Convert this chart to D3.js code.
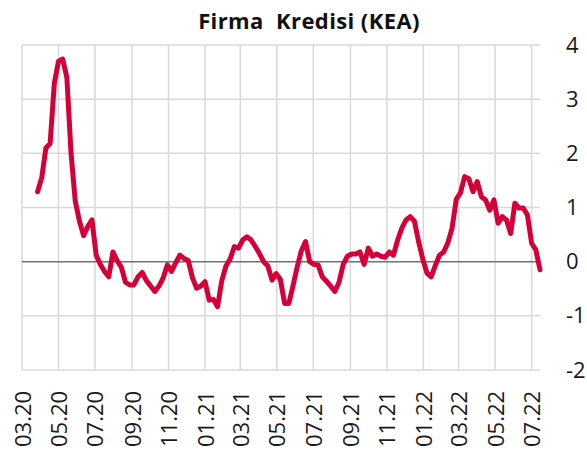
<!DOCTYPE html>
<html>
<head>
<meta charset="utf-8">
<script src="https://cdn.jsdelivr.net/npm/d3@7"></script>
<style>
  html, body { margin: 0; padding: 0; background: #fff; }
  svg { display: block; font-family: "Open Sans", "Noto Sans", sans-serif; }
</style>
</head>
<body>
<svg id="chart" width="587" height="451"></svg>
<script>
const title = "Firma  Kredisi (KEA)";
const startDate = "2020-03-27"; // first weekly observation
const values = [
  1.29, 1.55, 2.10, 2.18, 3.29, 3.70, 3.74, 3.40, 2.00, 1.12,
  0.75, 0.48, 0.65, 0.77, 0.12, -0.05, -0.18, -0.28, 0.18, 0.02,
  -0.10, -0.38, -0.43, -0.43, -0.28, -0.20, -0.35, -0.45, -0.55, -0.45,
  -0.30, -0.06, -0.18, -0.02, 0.12, 0.06, 0.02, -0.30, -0.49, -0.45,
  -0.37, -0.71, -0.70, -0.83, -0.35, -0.08, 0.05, 0.28, 0.25, 0.40,
  0.46, 0.40, 0.28, 0.15, 0.00, -0.08, -0.34, -0.22, -0.33, -0.77,
  -0.77, -0.45, -0.10, 0.20, 0.37, 0.00, -0.05, -0.06, -0.28, -0.36,
  -0.45, -0.55, -0.38, -0.05, 0.10, 0.14, 0.14, 0.18, -0.05, 0.25,
  0.10, 0.14, 0.10, 0.08, 0.18, 0.12, 0.40, 0.62, 0.77, 0.83,
  0.75, 0.37, 0.05, -0.21, -0.28, -0.07, 0.12, 0.18, 0.35, 0.62,
  1.15, 1.27, 1.57, 1.53, 1.29, 1.48, 1.20, 1.14, 0.95, 1.14,
  0.71, 0.83, 0.77, 0.52, 1.08, 0.99, 0.99, 0.86, 0.34, 0.22,
  -0.15
];
const xTickLabels = ["03.20","05.20","07.20","09.20","11.20","01.21","03.21","05.21","07.21","09.21","11.21","01.22","03.22","05.22","07.22"];
const yTicks = [-2, -1, 0, 1, 2, 3, 4];

const parse = d3.timeParse("%Y-%m-%d");
const parseTick = d3.timeParse("%m.%y");
const t0 = parse(startDate);
const data = values.map((v, i) => ({ date: d3.timeDay.offset(t0, 7 * i), value: v }));
const tickDates = xTickLabels.map(s => parseTick(s));

const svg = d3.select("#chart");
const margin = { left: 22, right: 47, top: 45, bottom: 81 };
const W = 587, H = 451;

const x = d3.scaleTime()
  .domain([tickDates[0], data[data.length - 1].date])
  .range([margin.left, W - margin.right]);
const y = d3.scaleLinear()
  .domain([-2, 4])
  .range([H - margin.bottom, margin.top]);

// horizontal grid
svg.append("g")
  .selectAll("line")
  .data(yTicks.filter(d => d !== 0))
  .join("line")
  .attr("x1", x.range()[0]).attr("x2", x.range()[1])
  .attr("y1", d => y(d)).attr("y2", d => y(d))
  .attr("stroke", "#d9d9d9").attr("stroke-width", 1.5);

// vertical grid
svg.append("g")
  .selectAll("line")
  .data(tickDates)
  .join("line")
  .attr("x1", d => x(d)).attr("x2", d => x(d))
  .attr("y1", y(4)).attr("y2", y(-2))
  .attr("stroke", "#d9d9d9").attr("stroke-width", 1.5);

// zero line
svg.append("line")
  .attr("x1", x.range()[0]).attr("x2", x.range()[1])
  .attr("y1", y(0)).attr("y2", y(0))
  .attr("stroke", "#707070").attr("stroke-width", 1.5);

// right axis labels
const yAxis = d3.axisRight(y).tickValues(yTicks).tickSize(0).tickPadding(0).tickFormat(d3.format("d"));
const gy = svg.append("g").attr("transform", `translate(${W - margin.right + 26},0)`).call(yAxis);
gy.select(".domain").remove();
gy.selectAll("text")
  .attr("font-size", 22)
  .attr("fill", "#1a1a1a")
  .attr("font-family", "'Open Sans', sans-serif")
  .text(d => d < 0 ? "-" + Math.abs(d) : d);

// bottom axis labels rotated
const xAxis = d3.axisBottom(x).tickValues(tickDates).tickSize(0).tickFormat((d, i) => xTickLabels[i]);
const gx = svg.append("g").attr("transform", `translate(0,${H - margin.bottom})`).call(xAxis);
gx.select(".domain").remove();
gx.selectAll("text")
  .attr("font-size", 22)
  .attr("fill", "#1a1a1a")
  .attr("font-family", "'Open Sans', sans-serif")
  .attr("text-anchor", "start")
  .attr("dy", null)
  .attr("y", 0)
  .attr("transform", "translate(8,77) rotate(-90)");

// line
const line = d3.line().x(d => x(d.date)).y(d => y(d.value));
svg.append("path")
  .datum(data)
  .attr("d", line)
  .attr("fill", "none")
  .attr("stroke", "#d50037")
  .attr("stroke-width", 5)
  .attr("stroke-linejoin", "round")
  .attr("stroke-linecap", "round");

// title
svg.append("text")
  .attr("x", 309).attr("y", 29)
  .attr("text-anchor", "middle")
  .attr("font-size", 22)
  .attr("font-weight", "bold")
  .attr("letter-spacing", 0.4)
  .attr("fill", "#111")
  .style("white-space", "pre")
  .text(title);
</script>
</body>
</html>
